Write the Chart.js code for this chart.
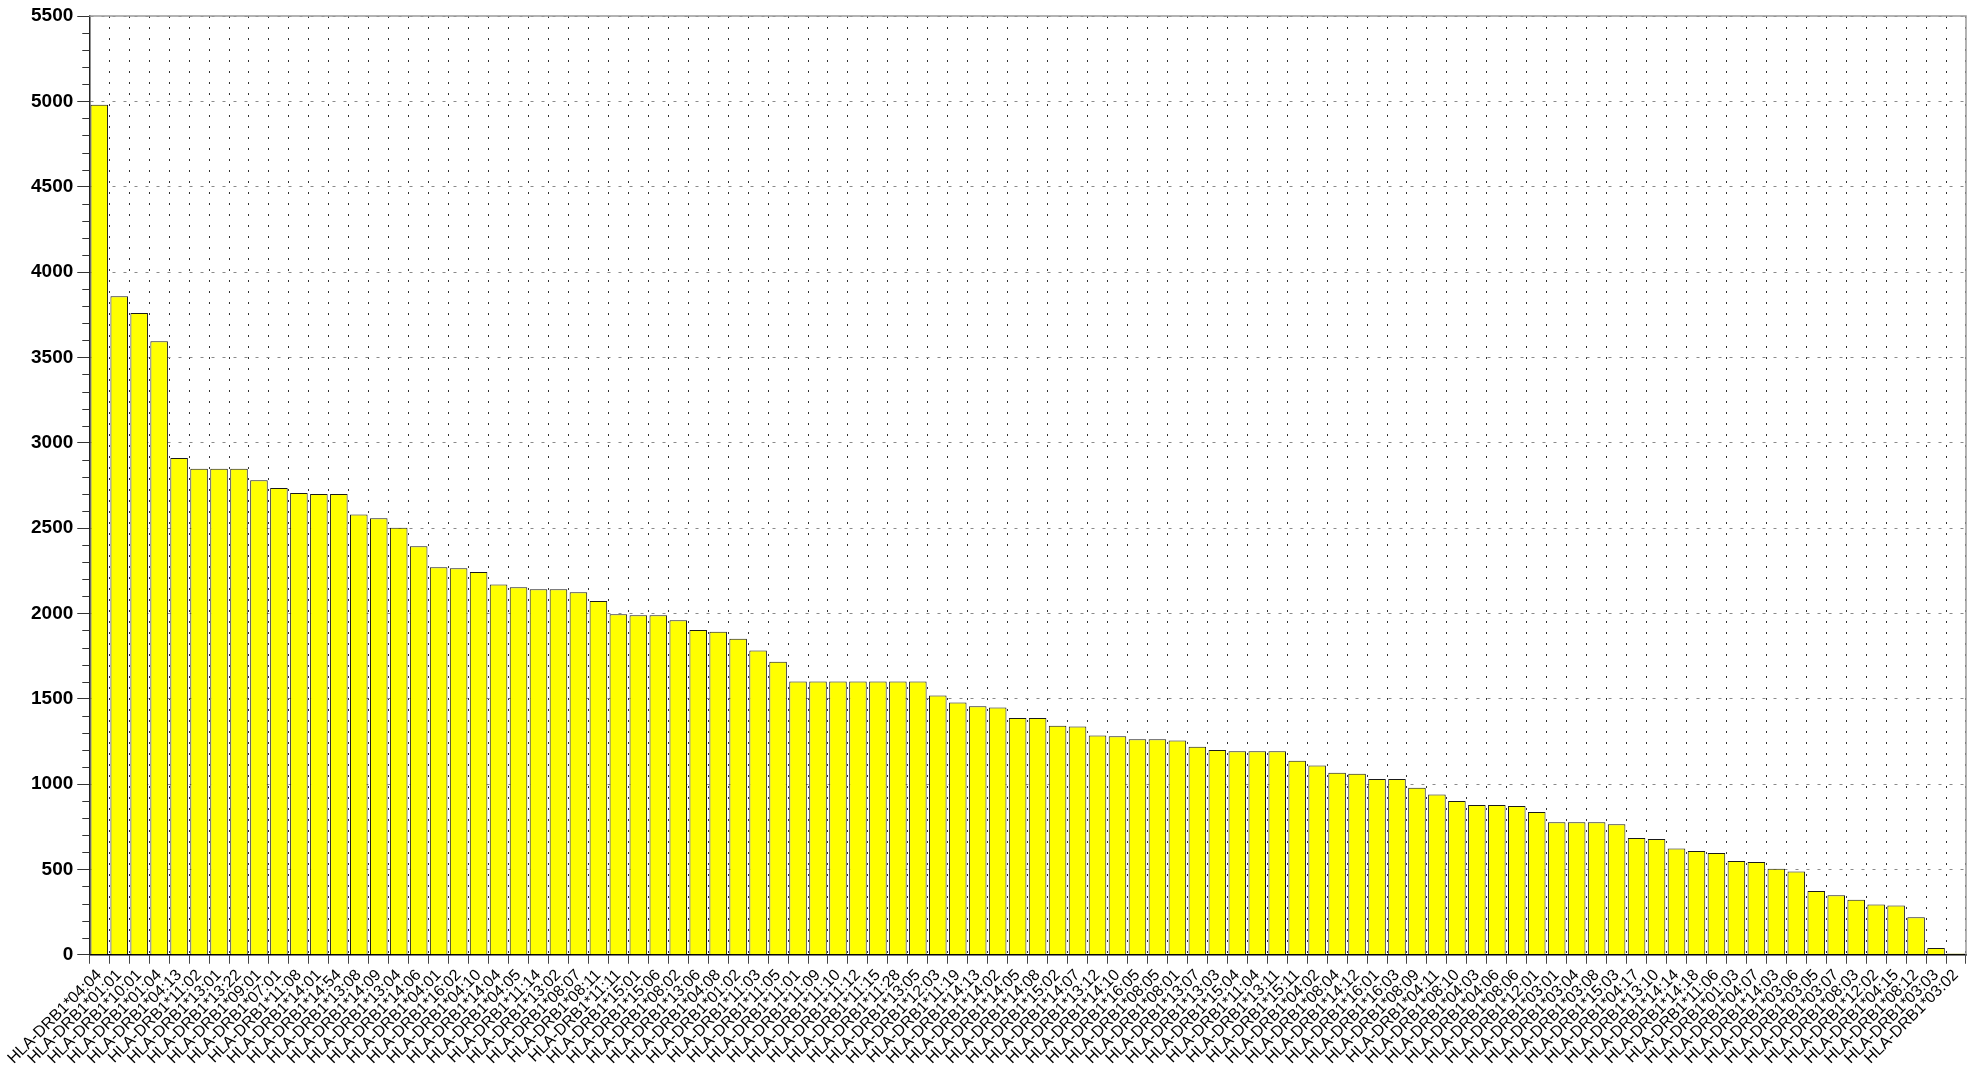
<!DOCTYPE html>
<html lang="en">
<head>
  <meta charset="UTF-8" />
  <title>HLA-DRB1 alleles</title>
  <script src="https://cdn.jsdelivr.net/npm/chart.js"></script>
  <style>
    html, body {
      margin: 0;
      padding: 0;
      background-color: #ffffff;
    }

    .chart-container {
      width: 1979px;
      height: 1070px;
    }
  </style>
</head>
<body>
  <div class="chart-container">
    <canvas id="alleleChart"></canvas>
  </div>

  <script>
    const alleles = [
      'HLA-DRB1*04:04', 'HLA-DRB1*01:01', 'HLA-DRB1*10:01', 'HLA-DRB1*01:04', 'HLA-DRB1*04:13',
      'HLA-DRB1*11:02', 'HLA-DRB1*13:01', 'HLA-DRB1*13:22', 'HLA-DRB1*09:01', 'HLA-DRB1*07:01',
      'HLA-DRB1*11:08', 'HLA-DRB1*14:01', 'HLA-DRB1*14:54', 'HLA-DRB1*13:08', 'HLA-DRB1*14:09',
      'HLA-DRB1*13:04', 'HLA-DRB1*14:06', 'HLA-DRB1*04:01', 'HLA-DRB1*16:02', 'HLA-DRB1*04:10',
      'HLA-DRB1*14:04', 'HLA-DRB1*04:05', 'HLA-DRB1*11:14', 'HLA-DRB1*13:02', 'HLA-DRB1*08:07',
      'HLA-DRB1*08:11', 'HLA-DRB1*11:11', 'HLA-DRB1*15:01', 'HLA-DRB1*15:06', 'HLA-DRB1*08:02',
      'HLA-DRB1*13:06', 'HLA-DRB1*04:08', 'HLA-DRB1*01:02', 'HLA-DRB1*11:03', 'HLA-DRB1*11:05',
      'HLA-DRB1*11:01', 'HLA-DRB1*11:09', 'HLA-DRB1*11:10', 'HLA-DRB1*11:12', 'HLA-DRB1*11:15',
      'HLA-DRB1*11:28', 'HLA-DRB1*13:05', 'HLA-DRB1*12:03', 'HLA-DRB1*11:19', 'HLA-DRB1*14:13',
      'HLA-DRB1*14:02', 'HLA-DRB1*14:05', 'HLA-DRB1*14:08', 'HLA-DRB1*15:02', 'HLA-DRB1*14:07',
      'HLA-DRB1*13:12', 'HLA-DRB1*14:10', 'HLA-DRB1*16:05', 'HLA-DRB1*08:05', 'HLA-DRB1*08:01',
      'HLA-DRB1*13:07', 'HLA-DRB1*13:03', 'HLA-DRB1*15:04', 'HLA-DRB1*11:04', 'HLA-DRB1*13:11',
      'HLA-DRB1*15:11', 'HLA-DRB1*04:02', 'HLA-DRB1*08:04', 'HLA-DRB1*14:12', 'HLA-DRB1*16:01',
      'HLA-DRB1*16:03', 'HLA-DRB1*08:09', 'HLA-DRB1*04:11', 'HLA-DRB1*08:10', 'HLA-DRB1*04:03',
      'HLA-DRB1*04:06', 'HLA-DRB1*08:06', 'HLA-DRB1*12:01', 'HLA-DRB1*03:01', 'HLA-DRB1*03:04',
      'HLA-DRB1*03:08', 'HLA-DRB1*15:03', 'HLA-DRB1*04:17', 'HLA-DRB1*13:10', 'HLA-DRB1*14:14',
      'HLA-DRB1*14:18', 'HLA-DRB1*11:06', 'HLA-DRB1*01:03', 'HLA-DRB1*04:07', 'HLA-DRB1*14:03',
      'HLA-DRB1*03:06', 'HLA-DRB1*03:05', 'HLA-DRB1*03:07', 'HLA-DRB1*08:03', 'HLA-DRB1*12:02',
      'HLA-DRB1*04:15', 'HLA-DRB1*08:12', 'HLA-DRB1*03:03', 'HLA-DRB1*03:02'
    ];

    const counts = [
      4980, 3858, 3760, 3595, 2910, 2847, 2847, 2847, 2780, 2735,
      2706, 2700, 2700, 2580, 2557, 2502, 2394, 2271, 2265, 2242,
      2169, 2153, 2142, 2142, 2124, 2073, 1995, 1989, 1989, 1960,
      1903, 1893, 1852, 1783, 1716, 1601, 1601, 1601, 1601, 1601,
      1601, 1601, 1519, 1478, 1456, 1448, 1387, 1387, 1342, 1337,
      1285, 1280, 1262, 1262, 1256, 1219, 1199, 1193, 1193, 1193,
      1137, 1109, 1066, 1060, 1029, 1029, 978, 939, 901, 878,
      878, 872, 837, 776, 776, 776, 764, 684, 678, 623,
      608, 596, 549, 543, 504, 488, 373, 349, 322, 294,
      288, 220, 39, 8
    ];

    // y axis: 0..5500, labelled every 500, small ticks every 100
    const yMax = 5500;
    const yStep = 500;
    const yMinorStep = 100;

    // minor y ticks and the grey frame on top / right of the plot
    const framePlugin = {
      id: 'frame',
      afterDraw(chart) {
        const { ctx, chartArea } = chart;
        const y = chart.scales.y;
        ctx.save();
        ctx.strokeStyle = '#333';
        ctx.lineWidth = 1;
        ctx.beginPath();
        for (let v = 0; v <= yMax; v += yMinorStep) {
          if (v % yStep === 0) continue;
          const py = Math.round(y.getPixelForValue(v)) + 0.5;
          ctx.moveTo(chartArea.left - 7, py);
          ctx.lineTo(chartArea.left, py);
        }
        ctx.stroke();

        ctx.strokeStyle = '#9a9a9a';
        ctx.lineWidth = 1.5;
        ctx.beginPath();
        ctx.moveTo(chartArea.left, chartArea.top);
        ctx.lineTo(chartArea.right, chartArea.top);
        ctx.lineTo(chartArea.right, chartArea.bottom);
        ctx.stroke();
        ctx.restore();
      }
    };

    const ctx = document.getElementById('alleleChart').getContext('2d');
    new Chart(ctx, {
      type: 'bar',
      data: {
        labels: alleles,
        datasets: [{
          data: counts,
          backgroundColor: '#ffff00',
          borderColor: '#1a1a1a',
          borderWidth: 1,
          borderSkipped: 'bottom',
          barPercentage: 0.88,
          categoryPercentage: 1.0
        }]
      },
      options: {
        responsive: true,
        maintainAspectRatio: false,
        animation: false,
        layout: {
          padding: { top: 16, right: 13, left: 27, bottom: 0 }
        },
        plugins: {
          legend: { display: false },
          tooltip: { enabled: false }
        },
        scales: {
          x: {
            offset: true,
            grid: {
              offset: true,
              color: '#333',
              lineWidth: 1,
              drawTicks: true,
              tickLength: 9,
              tickColor: '#444'
            },
            border: {
              display: true,
              color: '#000',
              width: 1.5,
              dash: [2, 9]
            },
            ticks: {
              autoSkip: false,
              maxRotation: 45,
              minRotation: 45,
              color: '#000',
              padding: 2,
              font: { family: "'Liberation Sans', Arial, sans-serif", size: 16 }
            }
          },
          y: {
            min: 0,
            max: yMax,
            grid: {
              color: '#8a8a8a',
              lineWidth: 1,
              drawTicks: true,
              tickLength: 12,
              tickColor: '#333'
            },
            border: {
              display: true,
              color: '#222',
              width: 1.5,
              dash: [3, 8]
            },
            ticks: {
              stepSize: yStep,
              color: '#000',
              padding: 4,
              callback: (value) => String(value),
              font: { family: "'Liberation Sans', Arial, sans-serif", size: 19, weight: 'bold' }
            }
          }
        }
      },
      plugins: [framePlugin]
    });
  </script>
</body>
</html>
